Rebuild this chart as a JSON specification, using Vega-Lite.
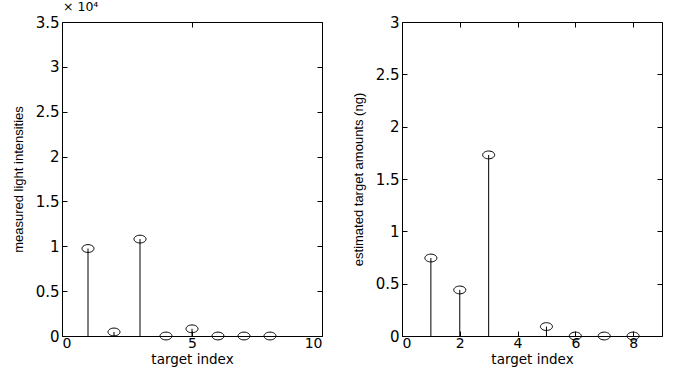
{
  "$schema": "https://vega.github.io/schema/vega-lite/v6.json",
  "padding": {"left": 11, "top": 0, "right": 13, "bottom": 2},
  "background": "white",
  "spacing": 28,
  "config": {
    "view": {"stroke": "black", "strokeWidth": 1},
    "axis": {
      "domain": false,
      "grid": false,
      "tickColor": "black",
      "tickSize": -5,
      "labelFont": "DejaVu Sans",
      "labelFontSize": 15,
      "labelColor": "black",
      "titleFont": "DejaVu Sans",
      "titleFontSize": 14,
      "titleFontWeight": "normal",
      "titleColor": "black"
    },
    "axisX": {"labelPadding": 5, "labelFontSize": 14, "titlePadding": 2, "titleFontSize": 13.5},
    "axisY": {"labelPadding": 8, "titlePadding": 10, "titleFont": "Liberation Sans", "titleFontSize": 13}
  },
  "datasets": {
    "left": [
      {"i": 1, "v": 9750}, {"i": 2, "v": 450}, {"i": 3, "v": 10800}, {"i": 4, "v": 0},
      {"i": 5, "v": 800}, {"i": 6, "v": 0}, {"i": 7, "v": 0}, {"i": 8, "v": 0}
    ],
    "right": [
      {"i": 1, "v": 0.745}, {"i": 2, "v": 0.44}, {"i": 3, "v": 1.73},
      {"i": 5, "v": 0.09}, {"i": 6, "v": 0}, {"i": 7, "v": 0}, {"i": 8, "v": 0}
    ]
  },
  "hconcat": [
    {
      "width": 260,
      "height": 314,
      "title": {"text": "× 10⁴", "anchor": "start", "frame": "group", "font": "DejaVu Sans", "fontSize": 12.5, "fontWeight": "normal", "offset": 2, "color": "black", "dx": 1},
      "data": {"name": "left"},
      "layer": [
        {
          "mark": {"type": "rule", "color": "black", "strokeWidth": 1},
          "encoding": {
            "x": {"field": "i", "type": "quantitative", "scale": {"domain": [0, 10], "nice": false},
              "axis": {"orient": "bottom", "values": [0, 5, 10], "title": "target index"}},
            "y": {"field": "v", "type": "quantitative", "scale": {"domain": [0, 35000], "nice": false},
              "axis": {"orient": "left", "values": [0, 5000, 10000, 15000, 20000, 25000, 30000, 35000], "labelExpr": "datum.value / 10000 + ''", "title": "measured light intensities"}},
            "y2": {"datum": 0}
          }
        },
        {
          "mark": {"type": "point", "shape": "M-1,0A1,0.65,0,1,1,1,0A1,0.65,0,1,1,-1,0Z", "filled": false, "color": "black", "size": 144, "strokeWidth": 1, "opacity": 1},
          "encoding": {
            "x": {"field": "i", "type": "quantitative", "axis": {"orient": "top", "values": [0, 5, 10], "labels": false, "title": null}},
            "y": {"field": "v", "type": "quantitative", "axis": {"orient": "right", "values": [0, 5000, 10000, 15000, 20000, 25000, 30000, 35000], "labels": false, "title": null}}
          }
        }
      ],
      "resolve": {"axis": {"x": "independent", "y": "independent"}}
    },
    {
      "width": 260,
      "height": 314,
      "data": {"name": "right"},
      "layer": [
        {
          "mark": {"type": "rule", "color": "black", "strokeWidth": 1},
          "encoding": {
            "x": {"field": "i", "type": "quantitative", "scale": {"domain": [0, 9], "nice": false},
              "axis": {"orient": "bottom", "values": [0, 2, 4, 6, 8], "title": "target index"}},
            "y": {"field": "v", "type": "quantitative", "scale": {"domain": [0, 3], "nice": false},
              "axis": {"orient": "left", "values": [0, 0.5, 1, 1.5, 2, 2.5, 3], "labelExpr": "datum.value + ''", "title": "estimated target amounts (ng)"}},
            "y2": {"datum": 0}
          }
        },
        {
          "mark": {"type": "point", "shape": "M-1,0A1,0.65,0,1,1,1,0A1,0.65,0,1,1,-1,0Z", "filled": false, "color": "black", "size": 144, "strokeWidth": 1, "opacity": 1},
          "encoding": {
            "x": {"field": "i", "type": "quantitative", "axis": {"orient": "top", "values": [0, 2, 4, 6, 8], "labels": false, "title": null}},
            "y": {"field": "v", "type": "quantitative", "axis": {"orient": "right", "values": [0, 0.5, 1, 1.5, 2, 2.5, 3], "labels": false, "title": null}}
          }
        }
      ],
      "resolve": {"axis": {"x": "independent", "y": "independent"}}
    }
  ]
}
